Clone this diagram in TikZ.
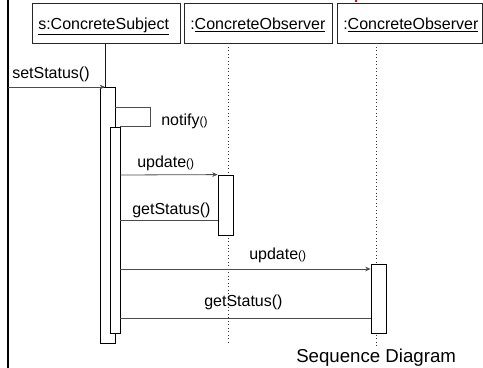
\documentclass[tikz,border=0pt]{standalone}
\usepackage{fontspec}
\setmainfont{Liberation Sans}
\usetikzlibrary{arrows.meta}
\newcommand{\smpar}{{\fontsize{9}{10}\selectfont()}}
\begin{document}
\begin{tikzpicture}[x=0.75pt,y=-0.75pt,
  hdr/.style={draw=black!85,line width=0.6pt,inner sep=0pt,font=\fontsize{12}{14}\selectfont},
  act/.style={draw=black,fill=white,line width=0.6pt,inner sep=0pt},
  msg/.style={draw=black!70,line width=0.6pt,-{Stealth[length=4pt,width=3.5pt]}},
  ret/.style={draw=black!70,line width=0.6pt},
  life/.style={draw=black!80,line width=0.6pt,dotted},
  lbl/.style={inner sep=0pt,anchor=base west,font=\fontsize{12}{14}\selectfont}]
\useasboundingbox (0,0) rectangle (483,368);
% frame line on the left
\draw[line width=1.5pt] (7.5,0) -- (7.5,368);
\draw[red,line width=1pt] (356,0) -- (356,2);
% headers
\node[hdr,minimum width=111pt,minimum height=29.8pt] (h1) at (106,23.2) {};
\node[hdr,minimum width=111pt,minimum height=29.8pt] (h2) at (258,23.2) {};
\node[hdr,minimum width=109pt,minimum height=29.8pt] (h3) at (409.75,23.2) {};
\node[lbl] (t1) at (38,29) {\underline{s:ConcreteSubject}};
\node[lbl] (t2) at (190,29) {:\underline{ConcreteObserver}};
\node[lbl] (t3) at (343,29) {:\underline{ConcreteObserver}};
% lifelines
\coordinate (l1b) at (105,87);
\coordinate (l2e) at (228.3,342);
\coordinate (l3e) at (376,347);
\draw[black!90,line width=0.6pt] (h1.south -| l1b) -- (l1b);
\draw[life] (h2.south -| l2e) -- (l2e);
\draw[life] (h3.south -| l3e) -- (l3e);
% activations
\node[act,minimum width=10.9pt,minimum height=192pt] (a1) at (107.75,215) {};
\node[act,minimum width=7pt,minimum height=154.5pt] (a2) at (115.35,230) {};
\node[act,minimum width=11.25pt,minimum height=45pt] (a3) at (225.5,205) {};
\node[act,minimum width=11.25pt,minimum height=51.75pt] (a4) at (378.5,298.5) {};
% messages
\coordinate (src) at (7.5,87);
\draw[msg] (src) -- (l1b);
\node[lbl] (m1) at (12,78) {setStatus()};
\coordinate (s1) at (150,107);
\draw[ret] (a1.east |- s1) -- (s1) -- (s1 |- a2.north) -- (a2.north east);
\node[lbl] (m2) at (161,125) {notify\smpar};
\draw[msg] (a2.east |- 0,175) -- (a3.north west);
\node[lbl] (m3) at (137,167) {update\smpar};
\draw[ret] (a3.west |- 0,220) -- (a2.east |- 0,220);
\node[lbl] (m4) at (132,214) {getStatus()};
\draw[msg] (a2.east |- 0,269) -- (a4.west |- 0,269);
\node[lbl] (m5) at (249,259) {update\smpar};
\draw[ret] (a4.west |- 0,318) -- (a2.east |- 0,318);
\node[lbl] (m6) at (204,306) {getStatus()};
\node[lbl,font=\fontsize{14}{16}\selectfont] (cap) at (296,362) {Sequence Diagram};
\end{tikzpicture}
\end{document}
